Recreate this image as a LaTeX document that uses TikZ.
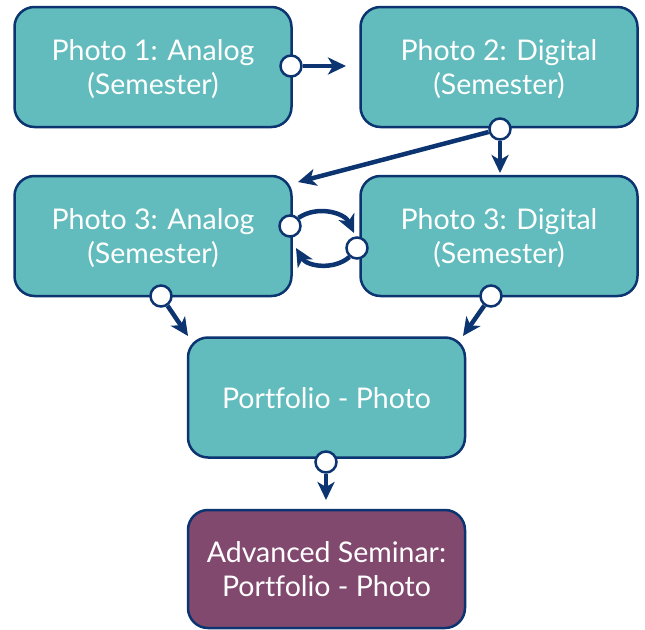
\documentclass[tikz,border=0pt]{standalone}
\usepackage{fontspec}
\setmainfont{Lato}[Ligatures=NoCommon]
\usetikzlibrary{arrows.meta}
\definecolor{teal1}{HTML}{62BBBC}
\definecolor{navy1}{HTML}{0B3470}
\definecolor{plum1}{HTML}{82496F}
\tikzset{
  box/.style={draw=navy1, line width=2.5pt, rounded corners=20pt, fill=teal1,
    minimum width=277pt, minimum height=120pt, align=center, text=white,
    font=\fontsize{28.5}{34}\selectfont, inner sep=0pt, text depth=-4pt},
  dot/.style={circle, draw=navy1, fill=white, line width=2.5pt, minimum size=21pt, inner sep=0pt},
  arr/.style={draw=navy1, line width=4.5pt, -{Stealth[length=18pt,width=17pt,inset=5pt]}},
}
\begin{document}
\begin{tikzpicture}[x=1pt,y=-1pt]
\useasboundingbox (0,0) rectangle (645,629);
\node[box] (b1) at (153,67) {Photo 1: Analog\\(Semester)};
\node[box] (b2) at (499,67) {Photo 2: Digital\\(Semester)};
\node[box] (b3) at (153,236) {Photo 3: Analog\\(Semester)};
\node[box] (b4) at (499,236) {Photo 3: Digital\\(Semester)};
\node[box] (b5) at (326.5,397.5) {Portfolio - Photo};
\node[box, fill=plum1, minimum height=118pt] (b6) at (326.5,569) {Advanced Seminar:\\Portfolio - Photo};
\node[dot] (c1) at (291,66) {};
\node[dot] (c2) at (500,129) {};
\node[dot] (c3r) at (290,226) {};
\node[dot] (c4l) at (357,248) {};
\node[dot] (c3b) at (161,296) {};
\node[dot] (c4b) at (491,296) {};
\node[dot] (c5) at (326,462) {};
\coordinate (e1) at (346,66);
\coordinate (e2) at (298,182);
\coordinate (e3) at (500,173);
\coordinate (e4) at (354,233);
\coordinate (e5) at (296,248);
\coordinate (e6) at (188,336);
\coordinate (e7) at (463,336);
\coordinate (e8) at (326,500);
\draw[arr] (c1) -- (e1);
\draw[arr] (c2) -- (e2);
\draw[arr] (c2) -- (e3);
\draw[arr] (c3r) to[bend left=50] (e4);
\draw[arr] (c4l) to[bend left=50] (e5);
\draw[arr] (c3b) -- (e6);
\draw[arr] (c4b) -- (e7);
\draw[arr] (c5) -- (e8);
\end{tikzpicture}
\end{document}
